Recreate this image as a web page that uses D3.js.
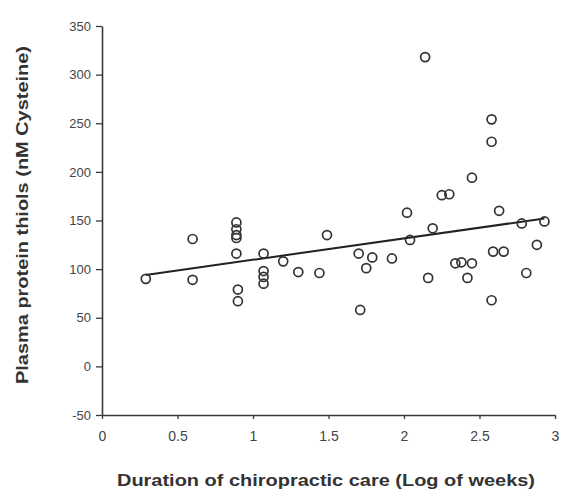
<!DOCTYPE html>
<html>
<head>
<meta charset="utf-8">
<script src="https://cdn.jsdelivr.net/npm/d3@7"></script>
<style>
  body { margin: 0; background: #fff; }
  svg { display: block; font-family: "Liberation Sans", Arial, sans-serif; }
</style>
</head>
<body>
<div id="plot-container"></div>
<script>
// ##################################
//  DATA
// ##################################

// Duration of care (log of weeks)
const xValues = [
  0.29, 0.6, 0.6, 0.89, 0.89, 0.89, 0.89, 0.89, 0.9, 0.9,
  1.07, 1.07, 1.07, 1.07, 1.2, 1.3, 1.44, 1.49, 1.7, 1.71,
  1.75, 1.79, 1.92, 2.02, 2.04, 2.14, 2.16, 2.19, 2.25, 2.3,
  2.34, 2.38, 2.42, 2.45, 2.45, 2.58, 2.58, 2.58, 2.59, 2.63,
  2.66, 2.78, 2.81, 2.88, 2.93,
]
// Plasma protein thiols (nM Cysteine)
const yValues = [
  90, 131, 89, 148, 141, 135, 132, 116, 79, 67,
  116, 98, 92, 85, 108, 97, 96, 135, 116, 58,
  101, 112, 111, 158, 130, 318, 91, 142, 176, 177,
  106, 107, 91, 106, 194, 254, 231, 68, 118, 160,
  118, 147, 96, 125, 149,
]
// Fitted line: intercept, slope, and x range it covers
const fitLine = [87.6, 22]
const fitRange = [0.29, 2.93]

const xTicks = [0, 0.5, 1, 1.5, 2, 2.5, 3]
const yTicks = [-50, 0, 50, 100, 150, 200, 250, 300, 350]

// ##################################
//  CONSTANTS
// ##################################
const width = 561
const height = 492
const margin = { top: 26, right: 6, bottom: 77, left: 102 }
const ink = "#3a3a3a"

const container = d3.select("div#plot-container")

const svg = container
  .append("svg")
  .attr("width", width)
  .attr("height", height)

const x = d3
  .scaleLinear()
  .domain([0, 3])
  .range([margin.left, 555])

const y = d3
  .scaleLinear()
  .domain([-50, 350])
  .range([height - margin.bottom, margin.top])

// ##################################
//  AXES
// ##################################
svg
  .append("g")
  .attr("transform", `translate(0, ${y(-50)})`)
  .call(d3.axisBottom(x).tickValues(xTicks).tickFormat(String).tickSize(4).tickPadding(12).tickSizeOuter(0))
  .call((g) => g.select(".domain").attr("stroke", ink).attr("stroke-width", 1.6))
  .call((g) => g.selectAll(".tick line").attr("stroke", ink).attr("stroke-width", 1.3))
  .call((g) => g.selectAll(".tick text").attr("fill", "#444").attr("font-size", 14))

// String() keeps the plain hyphen in "-50", as in the original
svg
  .append("g")
  .attr("transform", `translate(${x(0)}, 0)`)
  .call(d3.axisLeft(y).tickValues(yTicks).tickFormat(String).tickSize(6).tickPadding(5).tickSizeOuter(0))
  .call((g) => g.select(".domain").attr("stroke", ink).attr("stroke-width", 1.6))
  .call((g) => g.selectAll(".tick line").attr("stroke", ink).attr("stroke-width", 1.3))
  .call((g) => g.selectAll(".tick text").attr("fill", "#444").attr("font-size", 13))

// Axis titles
svg
  .append("text")
  .attr("x", 326)
  .attr("y", 486)
  .attr("text-anchor", "middle")
  .attr("font-weight", "bold")
  .attr("font-size", 17)
  .attr("textLength", 418)
  .attr("lengthAdjust", "spacingAndGlyphs")
  .attr("fill", "#333")
  .text("Duration of chiropractic care (Log of weeks)")

svg
  .append("text")
  .attr("transform", "translate(28, 215) rotate(-90)")
  .attr("text-anchor", "middle")
  .attr("font-weight", "bold")
  .attr("font-size", 17)
  .attr("textLength", 338)
  .attr("lengthAdjust", "spacingAndGlyphs")
  .attr("fill", "#333")
  .text("Plasma protein thiols (nM Cysteine)")

// ##################################
//  FIT LINE AND POINTS
// ##################################
const line = d3
  .line()
  .x((d) => x(d))
  .y((d) => y(fitLine[0] + fitLine[1] * d))

svg
  .append("path")
  .datum(fitRange)
  .attr("fill", "none")
  .attr("stroke", "#222")
  .attr("stroke-width", 2)
  .attr("d", line)

svg
  .append("g")
  .attr("fill", "none")
  .attr("stroke", "#333")
  .attr("stroke-width", 1.7)
  .selectAll("circle")
  .data(d3.zip(xValues, yValues))
  .join("circle")
  .attr("cx", (d) => x(d[0]))
  .attr("cy", (d) => y(d[1]))
  .attr("r", 4.5)
</script>
</body>
</html>
